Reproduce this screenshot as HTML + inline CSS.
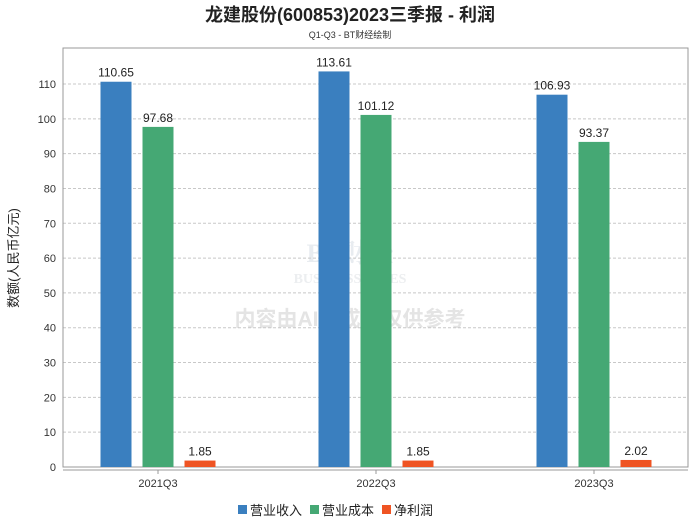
<!DOCTYPE html>
<html><head><meta charset="utf-8"><style>
body{margin:0;background:#fff;width:700px;height:524px;overflow:hidden;font-family:"Liberation Sans","Noto Sans CJK SC",sans-serif}
</style></head><body>
<svg id="c" width="700" height="524" xmlns="http://www.w3.org/2000/svg">
<text x="350" y="21" text-anchor="middle" font-size="18" font-weight="bold" fill="#222" font-family="Liberation Sans,Noto Sans CJK SC,sans-serif">龙建股份(600853)2023三季报 - 利润</text>
<text x="350" y="38" text-anchor="middle" font-size="9" fill="#333" font-family="Liberation Sans,Noto Sans CJK SC,sans-serif">Q1-Q3 - BT财经绘制</text>
<text x="18" y="258" text-anchor="middle" font-size="13" fill="#222" transform="rotate(-90 18 258)" font-family="Liberation Sans,Noto Sans CJK SC,sans-serif">数额(人民币亿元)</text>
<text x="350" y="326" text-anchor="middle" font-size="21" font-weight="bold" fill="#e4e4e4" font-family="Liberation Sans,Noto Sans CJK SC,sans-serif">内容由AI生成，仅供参考</text>
<text x="350" y="262" text-anchor="middle" font-size="26" font-weight="bold" fill="#e8ecf0" font-family="Liberation Serif,Noto Serif CJK SC,serif">BT财经</text>
<text x="350" y="283" text-anchor="middle" font-size="14" font-weight="bold" fill="#eceef0" font-family="Liberation Serif,serif">BUSINESSTIMES</text>
<g id="g"></g>
</svg>
<script>
const categories=["2021Q3","2022Q3","2023Q3"];
const revenue=[110.65,113.61,106.93];
const cost=[97.68,101.12,93.37];
const profit=[1.85,1.85,2.02];
const yTicks=[0,10,20,30,40,50,60,70,80,90,100,110];
const seriesNames=["营业收入","营业成本","净利润"];
const colors=["#3a7fbf","#45a874","#ef5423"];
const NS="http://www.w3.org/2000/svg";
const g=document.getElementById('g');
const L=63,R=688,T=48,B=467;
const y=v=>B-v*(B-84)/110;
const xc=i=>158+i*218;
function mk(t,a,txt){const e=document.createElementNS(NS,t);for(const k in a)e.setAttribute(k,a[k]);if(txt!=null)e.textContent=txt;g.appendChild(e);return e;}
yTicks.forEach(v=>{
 if(v>0){const l=mk('line',{x1:L,x2:R,y1:y(v),y2:y(v),stroke:'#c8c8c8','stroke-dasharray':'3,2'});
 
 }
 const t=mk('text',{x:56,y:y(v)+4,'text-anchor':'end','font-size':11,fill:'#333'},v);
 
 
});
const box=mk('rect',{x:L,y:T,width:R-L,height:B-T,fill:'none',stroke:'#999'});


const xa=mk('line',{x1:L,x2:R,y1:B+3,y2:B+3,stroke:'#999'});


const series=[revenue,cost,profit];
categories.forEach((c,i)=>{
 const tk=mk('line',{x1:xc(i),x2:xc(i),y1:B+3,y2:B+7,stroke:'#999'});
 
 
 const t=mk('text',{x:xc(i),y:B+20,'text-anchor':'middle','font-size':11,fill:'#333'},c);
 
 
 series.forEach((s,j)=>{
  const cx=xc(i)+(j-1)*42;
  const r=mk('rect',{x:cx-15.5,y:y(s[i]),width:31,height:B-y(s[i]),fill:colors[j]});
  
  
  const lb=mk('text',{x:cx,y:y(s[i])-5,'text-anchor':'middle','font-size':12,fill:'#222'},s[i].toFixed(2));
  
  
 });
});
let lx=238;
seriesNames.forEach((n,j)=>{
 const r=mk('rect',{x:lx,y:505,width:9,height:9,fill:colors[j]});
 
 
 const t=mk('text',{x:lx+12,y:515,'font-size':13,fill:'#222'},n);
 
 
 lx+=12+n.length*13+8;
});
</script>
</body></html>
